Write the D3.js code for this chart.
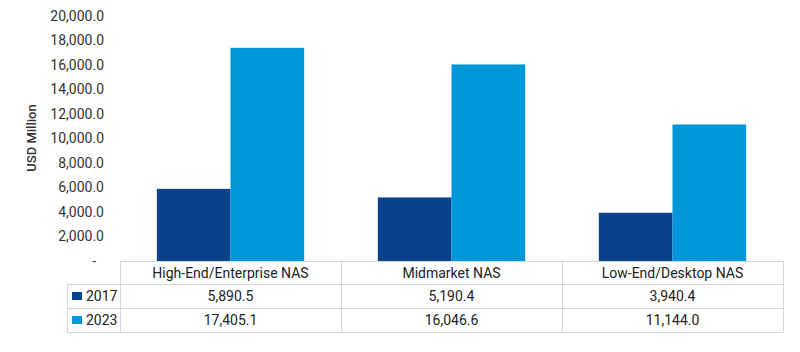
<!DOCTYPE html>
<html>
<head>
<meta charset="utf-8">
<script src="https://cdn.jsdelivr.net/npm/d3@7"></script>
<style>
  body { margin: 0; background: #fff; }
  svg { display: block; font-family: Roboto, sans-serif; }
</style>
</head>
<body>
<div id="chart"></div>
<script>
// data
const categories = ["High-End/Enterprise NAS", "Midmarket NAS", "Low-End/Desktop NAS"];
const seriesNames = ["2017", "2023"];
const values2017 = [5890.5, 5190.4, 3940.4];
const values2023 = [17405.1, 16046.6, 11144.0];
const yTicks = [0, 2000, 4000, 6000, 8000, 10000, 12000, 14000, 16000, 18000, 20000];
const colors = ["#08438c", "#0097da"];

const width = 800, height = 352;
const series = [values2017, values2023];

const svg = d3.select("#chart").append("svg")
  .attr("width", width)
  .attr("height", height);

const x = d3.scaleBand().domain(categories).range([120, 783]);
const xSub = d3.scaleBand().domain(seriesNames).range([0, x.bandwidth()]).paddingOuter(0.5);
const y = d3.scaleLinear().domain([0, 20000]).range([261, 16]);

// y axis (labels only)
const fmt = d3.format(",.1f");
const yAxis = svg.append("g")
  .attr("transform", "translate(104,0)")
  .call(d3.axisLeft(y).tickValues(yTicks).tickSize(0).tickPadding(0)
    .tickFormat(d => d === 0 ? "-" : fmt(d)));
yAxis.select(".domain").remove();
yAxis.selectAll("text")
  .attr("font-size", 14)
  .attr("font-family", "Roboto, sans-serif")
  .attr("fill", "#333");
yAxis.selectAll(".tick").filter(d => d === 0).select("text")
  .attr("x", -8);

svg.append("text")
  .attr("transform", "translate(36,138) rotate(-90)")
  .attr("text-anchor", "middle")
  .attr("font-size", 13)
  .attr("font-weight", 500)
  .attr("fill", "#333")
  .text("USD Million");

// bars
categories.forEach((c, i) => {
  seriesNames.forEach((s, j) => {
    svg.append("rect")
      .attr("x", x(c) + xSub(s))
      .attr("y", y(series[j][i]))
      .attr("width", xSub.bandwidth())
      .attr("height", y(0) - y(series[j][i]))
      .attr("fill", colors[j]);
  });
});

// data table
const rowH = 24;
const tableTop = y(0);
const legendLeft = 67;
const right = x.range()[1];
const grid = svg.append("g").attr("stroke", "#d6d6d6").attr("stroke-width", 1).attr("shape-rendering", "crispEdges");
grid.append("line").attr("x1", x.range()[0]).attr("x2", right).attr("y1", tableTop).attr("y2", tableTop);
for (let r = 1; r <= 3; r++) {
  grid.append("line").attr("x1", legendLeft).attr("x2", right)
    .attr("y1", tableTop + r * rowH - 1).attr("y2", tableTop + r * rowH - 1);
}
grid.append("line").attr("x1", legendLeft).attr("x2", legendLeft).attr("y1", tableTop + rowH - 1).attr("y2", tableTop + 3 * rowH - 1);
categories.forEach(c => {
  grid.append("line").attr("x1", x(c)).attr("x2", x(c)).attr("y1", tableTop).attr("y2", tableTop + 3 * rowH - 1);
});
grid.append("line").attr("x1", right).attr("x2", right).attr("y1", tableTop).attr("y2", tableTop + 3 * rowH - 1);

const txt = svg.append("g").attr("font-size", 14).attr("fill", "#222");
categories.forEach((c, i) => {
  const cx = x(c) + x.bandwidth() / 2;
  txt.append("text").attr("x", cx).attr("y", tableTop + rowH / 2).attr("dy", "0.35em")
    .attr("text-anchor", "middle").text(c);
  series.forEach((vals, j) => {
    txt.append("text").attr("x", cx).attr("y", tableTop + (j + 1.5) * rowH - 1).attr("dy", "0.35em")
      .attr("text-anchor", "middle").text(fmt(vals[i]));
  });
});
seriesNames.forEach((s, j) => {
  const cy = tableTop + (j + 1.5) * rowH - 1;
  svg.append("rect").attr("x", 72).attr("y", cy - 4).attr("width", 10).attr("height", 8).attr("fill", colors[j]);
  txt.append("text").attr("x", 86).attr("y", cy).attr("dy", "0.35em").attr("font-size", 14).text(s);
});
</script>
</body>
</html>
